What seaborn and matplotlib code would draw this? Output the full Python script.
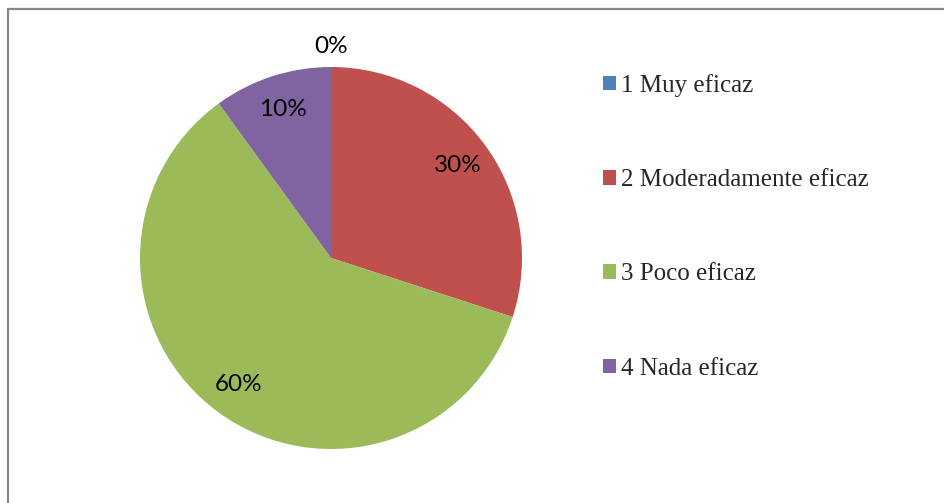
import matplotlib
matplotlib.use("Agg")
import matplotlib.pyplot as plt
from matplotlib.lines import Line2D
import seaborn as sns
import numpy as np

categories = ["1 Muy eficaz", "2 Moderadamente eficaz", "3 Poco eficaz", "4 Nada eficaz"]
values = [0, 30, 60, 10]
colors = ["#4F81BD", "#C0504D", "#9BBB59", "#8064A2"]

sns.set_theme(style="white")
plt.rcParams["font.family"] = ["Lato", "DejaVu Sans"]

W, H = 945, 503
fig = plt.figure(figsize=(W / 100, H / 100), dpi=100)
fig.patch.set_facecolor("white")

cx, cy, R = 331, 258, 191
ax = fig.add_axes([(cx - R) / W, (H - cy - R) / H, 2 * R / W, 2 * R / H])
palette = sns.color_palette(colors)
wedges, _ = ax.pie(values, colors=palette, startangle=90, counterclock=False,
                   radius=1, wedgeprops=dict(linewidth=0))
ax.set_xlim(-1, 1)
ax.set_ylim(-1, 1)
ax.set_aspect("equal")
ax.axis("off")

total = sum(values)
for w, v in zip(wedges, values):
    ang = np.deg2rad((w.theta1 + w.theta2) / 2)
    d = 0.82 if v > 0 else 1.105
    ax.text(d * np.cos(ang), d * np.sin(ang), f"{round(100 * v / total)}%",
            ha="center", va="center", fontsize=17.5, color="black",
            family=["Lato", "DejaVu Sans"], clip_on=False)

leg = fig.legend(wedges, categories, loc="upper left",
                 bbox_to_anchor=(603 / W, 1 - 74 / H), frameon=False,
                 prop=dict(family=["Liberation Serif", "DejaVu Serif"], size=18),
                 handlelength=0.52, handleheight=0.52, handletextpad=0.22,
                 labelspacing=2.89, borderpad=0, borderaxespad=0)

gray = "#878787"
fig.add_artist(Line2D([8.5 / W, 1], [1 - 8.5 / H, 1 - 8.5 / H], transform=fig.transFigure,
                      color=gray, linewidth=1.6))
fig.add_artist(Line2D([8.5 / W, 8.5 / W], [0, 1 - 8.5 / H], transform=fig.transFigure,
                      color=gray, linewidth=1.6))

fig.savefig("out.png", dpi=100, facecolor="white")
